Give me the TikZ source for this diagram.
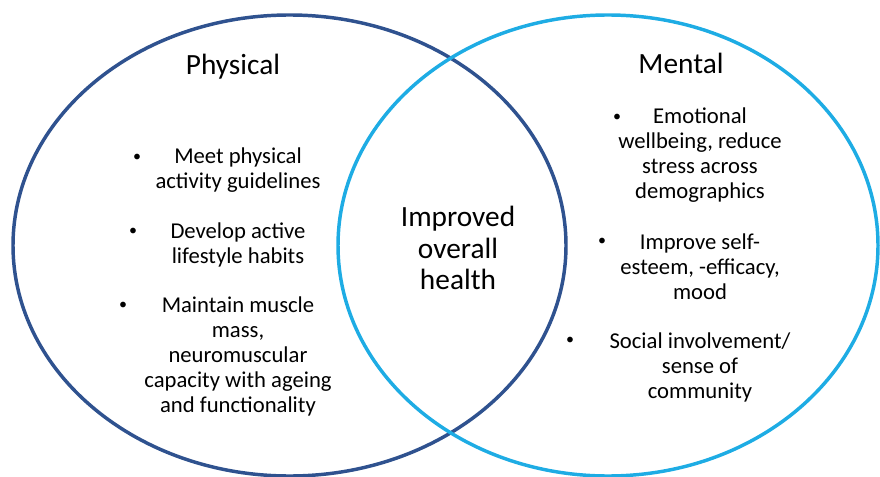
\documentclass[tikz,border=0pt]{standalone}
\usepackage{fontspec}
\setmainfont{Carlito}
\usepackage{tikz}
\usetikzlibrary{positioning}
\usepackage{xcolor}
\definecolor{vnnavy}{RGB}{47,82,143}
\definecolor{vnsky}{RGB}{30,172,228}
\tikzstyle{ring} = [line width=2.6pt]
\tikzstyle{heading} = [font=\fontsize{22}{26}\selectfont, anchor=base]
\tikzstyle{item} = [align=center, inner sep=0pt, font=\fontsize{17}{18.75}\selectfont]
\tikzstyle{dot} = [inner sep=0pt, font=\fontsize{12}{14}\selectfont]
\tikzstyle{core} = [align=center, inner sep=0pt, font=\fontsize{22}{23.6}\selectfont]

\begin{document}
\begin{tikzpicture}[x=0.75pt, y=-0.75pt]
\useasboundingbox (0,0) rectangle (880,477);
% The two circles
\draw[ring, vnnavy] (289.5,245.5) ellipse [x radius=276.5, y radius=230.5];
\draw[ring, vnsky] (608,245.5) ellipse [x radius=270, y radius=230.5];

% Physical side
\node (physical) [heading] at (233,75) {Physical};
\node (p1) [item] at (238,170.5) {Meet physical\\activity guidelines};
\node (p2) [item] at (238,244.5) {Develop active\\lifestyle habits};
\node (p3) [item] at (238,356) {Maintain muscle\\mass,\\neuromuscular\\capacity with ageing\\and functionality};
\node (pd1) [dot] at (137,158) {•};
\node (pd2) [dot] at (133,232) {•};
\node (pd3) [dot] at (123,306) {•};

% Overlap
\node (overall) [core] at (458,248) {Improved\\overall\\health};

% Mental side
\node (mental) [heading] at (681,74) {Mental};
\node (m1) [item] at (700,155.5) {Emotional\\wellbeing, reduce\\stress across\\demographics};
\node (m2) [item] at (700,266.5) {Improve self-\\esteem, -efficacy,\\mood};
\node (m3) [item] at (700,367) {Social involvement/\\sense of\\community};
\node (md1) [dot] at (617,118) {•};
\node (md2) [dot] at (602,242) {•};
\node (md3) [dot] at (570,341) {•};
\end{tikzpicture}
\end{document}
